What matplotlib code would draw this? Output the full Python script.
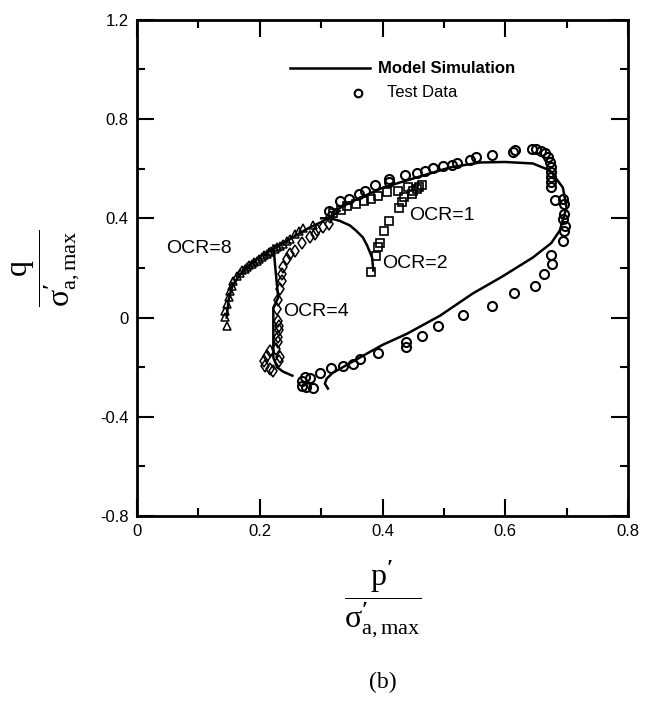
import numpy as np
import matplotlib.pyplot as plt
from matplotlib.ticker import MultipleLocator

# model simulation curves (p'/sigma, q/sigma)
sim1_p = [0.311, 0.306, 0.309, 0.319, 0.331, 0.363, 0.40, 0.44, 0.494, 0.547, 0.595,
          0.645, 0.675, 0.689, 0.70, 0.694, 0.673, 0.645, 0.60, 0.559, 0.51, 0.456,
          0.401, 0.347, 0.318]
sim1_q = [-0.286, -0.266, -0.246, -0.222, -0.206, -0.161, -0.11, -0.065, 0.008, 0.097, 0.165,
          0.242, 0.30, 0.351, 0.444, 0.524, 0.593, 0.621, 0.627, 0.625, 0.605, 0.565,
          0.524, 0.464, 0.425]
sim2_p = [0.385, 0.383, 0.375, 0.368, 0.357, 0.347, 0.33, 0.315, 0.30]
sim2_q = [0.19, 0.242, 0.29, 0.323, 0.35, 0.371, 0.39, 0.40, 0.40]
sim4_p = [0.253, 0.238, 0.228, 0.222, 0.222, 0.23, 0.226, 0.222]
sim4_q = [-0.234, -0.218, -0.20, -0.161, 0.04, 0.081, 0.18, 0.29]
sim8_p = [0.146, 0.149, 0.155, 0.165, 0.18, 0.20, 0.22, 0.245, 0.265, 0.279, 0.30, 0.318, 0.33]
sim8_q = [0.00, 0.07, 0.125, 0.165, 0.205, 0.245, 0.275, 0.31, 0.34, 0.36, 0.385, 0.41, 0.43]

# test data
ocr1_p = [0.268, 0.268, 0.276, 0.287, 0.282, 0.274, 0.298, 0.316, 0.336, 0.352, 0.363,
          0.392, 0.438, 0.439, 0.465, 0.491, 0.531, 0.578, 0.615, 0.648, 0.663, 0.677,
          0.674, 0.694, 0.696, 0.697, 0.695, 0.696, 0.696, 0.694, 0.681, 0.674, 0.674,
          0.674, 0.674, 0.674, 0.673, 0.670, 0.665, 0.659, 0.651, 0.643, 0.616, 0.613,
          0.578, 0.553, 0.543, 0.521, 0.513, 0.499, 0.483, 0.469, 0.456, 0.437, 0.410,
          0.410, 0.388, 0.371, 0.361, 0.346, 0.331, 0.313]
ocr1_q = [-0.254, -0.274, -0.281, -0.284, -0.243, -0.241, -0.223, -0.203, -0.194, -0.187, -0.167,
          -0.144, -0.12, -0.10, -0.073, -0.032, 0.011, 0.048, 0.098, 0.129, 0.176, 0.214,
          0.254, 0.308, 0.348, 0.371, 0.398, 0.418, 0.456, 0.479, 0.472, 0.525, 0.546,
          0.566, 0.586, 0.606, 0.626, 0.646, 0.662, 0.673, 0.678, 0.680, 0.676, 0.667,
          0.657, 0.649, 0.637, 0.624, 0.616, 0.609, 0.602, 0.590, 0.583, 0.573, 0.559,
          0.546, 0.536, 0.512, 0.496, 0.479, 0.468, 0.431]
ocr2_p = [0.382, 0.389, 0.393, 0.396, 0.402, 0.410, 0.427, 0.431, 0.435, 0.448, 0.450,
          0.456, 0.460, 0.465, 0.442, 0.426, 0.408, 0.393, 0.381, 0.369, 0.357, 0.342,
          0.332, 0.320]
ocr2_q = [0.183, 0.250, 0.283, 0.300, 0.347, 0.391, 0.442, 0.465, 0.485, 0.496, 0.512,
          0.519, 0.528, 0.536, 0.526, 0.512, 0.505, 0.489, 0.476, 0.469, 0.456, 0.448,
          0.434, 0.420]
ocr4_p = [0.222, 0.217, 0.209, 0.206, 0.211, 0.217, 0.226, 0.233, 0.232, 0.229, 0.230,
          0.232, 0.232, 0.230, 0.228, 0.230, 0.233, 0.236, 0.236, 0.238, 0.244, 0.249,
          0.257, 0.268, 0.282, 0.290, 0.293, 0.303, 0.312, 0.315]
ocr4_q = [-0.214, -0.207, -0.194, -0.173, -0.153, -0.133, -0.126, -0.160, -0.173, -0.099, -0.079,
          -0.052, -0.032, -0.012, 0.035, 0.069, 0.116, 0.149, 0.176, 0.203, 0.237, 0.255,
          0.270, 0.300, 0.324, 0.337, 0.352, 0.366, 0.378, 0.405]
ocr8_p = [0.146, 0.143, 0.143, 0.146, 0.149, 0.152, 0.154, 0.157, 0.162, 0.167, 0.171,
          0.175, 0.179, 0.183, 0.187, 0.191, 0.195, 0.199, 0.203, 0.207, 0.211, 0.215,
          0.219, 0.224, 0.228, 0.233, 0.238, 0.244, 0.249, 0.257, 0.264, 0.271, 0.286]
ocr8_q = [-0.032, 0.001, 0.028, 0.055, 0.082, 0.109, 0.129, 0.149, 0.169, 0.180, 0.190,
          0.197, 0.203, 0.210, 0.216, 0.223, 0.230, 0.238, 0.246, 0.251, 0.257, 0.264,
          0.270, 0.277, 0.284, 0.290, 0.297, 0.307, 0.317, 0.337, 0.348, 0.362, 0.372]

labels = ['OCR=1', 'OCR=2', 'OCR=4', 'OCR=8']
label_p = [0.443, 0.40, 0.238, 0.047]
label_q = [0.41, 0.218, 0.024, 0.278]

plt.rcParams['font.family'] = ['Liberation Sans', 'DejaVu Sans']
plt.rcParams['mathtext.fontset'] = 'custom'
plt.rcParams['mathtext.rm'] = 'Liberation Serif'
plt.rcParams['mathtext.it'] = 'Liberation Serif:italic'
plt.rcParams['mathtext.bf'] = 'Liberation Serif:bold'

fig = plt.figure(figsize=(6.5, 7.07), dpi=100)
ax = fig.add_axes([0.211, 0.270, 0.755, 0.702])

lw = 1.8
for sp, sq in [(sim1_p, sim1_q), (sim2_p, sim2_q), (sim4_p, sim4_q), (sim8_p, sim8_q)]:
    ax.plot(sp, sq, color='black', linewidth=lw)

mk = dict(linestyle='none', markerfacecolor='none', markeredgecolor='black')
ax.plot(ocr1_p, ocr1_q, marker='o', markersize=6.5, markeredgewidth=1.5, **mk)
ax.plot(ocr2_p, ocr2_q, marker='s', markersize=6, markeredgewidth=1.2, **mk)
ax.plot(ocr4_p, ocr4_q, marker='d', markersize=6, markeredgewidth=1.1, **mk)
ax.plot(ocr8_p, ocr8_q, marker='^', markersize=5.5, markeredgewidth=1.1, **mk)

for t, x, y in zip(labels, label_p, label_q):
    ax.text(x, y, t, fontsize=14, va='center', ha='left')

# legend drawn by hand, like the original
ax.plot([0.249, 0.379], [1.004, 1.004], color='black', linewidth=lw)
ax.text(0.392, 1.004, 'Model Simulation', fontsize=12, fontweight='bold', va='center')
ax.plot([0.36], [0.907], marker='o', markersize=5.5, markeredgewidth=1.5, **mk)
ax.text(0.408, 0.907, 'Test Data', fontsize=12, va='center')

ax.set_xlim(0, 0.8)
ax.set_ylim(-0.8, 1.2)
ax.set_xticks([0, 0.2, 0.4, 0.6, 0.8])
ax.set_xticklabels(['0', '0.2', '0.4', '0.6', '0.8'])
ax.set_yticks([-0.8, -0.4, 0, 0.4, 0.8, 1.2])
ax.set_yticklabels(['-0.8', '-0.4', '0', '0.4', '0.8', '1.2'])
ax.xaxis.set_minor_locator(MultipleLocator(0.1))
ax.yaxis.set_minor_locator(MultipleLocator(0.2))
ax.tick_params(which='both', direction='in', top=True, right=True, labelsize=12, pad=6)
ax.tick_params(which='major', length=12, width=1.5)
ax.tick_params(which='minor', length=6, width=1.5)
for s in ax.spines.values():
    s.set_linewidth(2)

den = r'\mathrm{σ}^{\mathbf{\prime}}_{\mathrm{a,max}}'
fig.text(0.072, 0.62, r'$\dfrac{\mathrm{q}}{' + den + '}$',
         fontsize=23, rotation=90, ha='center', va='center')
fig.text(0.589, 0.153, r'$\dfrac{\mathrm{p}^{\mathbf{\prime}}}{' + den + '}$',
         fontsize=23, ha='center', va='center')
fig.text(0.589, 0.02, '(b)', fontsize=17, family='Liberation Serif', ha='center', va='bottom')

fig.savefig('out.png', dpi=100)
